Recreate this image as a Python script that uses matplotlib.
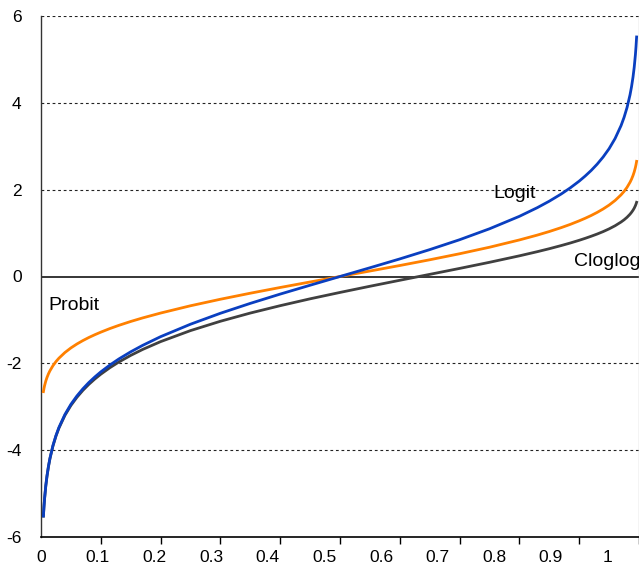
import numpy as np
import matplotlib
matplotlib.use("Agg")
import matplotlib.pyplot as plt

plt.rcParams['font.family'] = ['Liberation Sans', 'DejaVu Sans']

# probabilities
p = [0.004, 0.005, 0.006, 0.008, 0.01, 0.0125, 0.015, 0.02, 0.025, 0.03, 0.04,
     0.05, 0.06, 0.07, 0.08, 0.09, 0.1, 0.115, 0.13, 0.15, 0.17, 0.2, 0.25, 0.3,
     0.35, 0.4, 0.45, 0.5, 0.55, 0.6, 0.65, 0.7, 0.75, 0.8, 0.83, 0.85, 0.87,
     0.885, 0.9, 0.91, 0.92, 0.93, 0.94, 0.95, 0.96, 0.97, 0.975, 0.98, 0.985,
     0.9875, 0.99, 0.992, 0.994, 0.995, 0.996]

logit = [-5.517, -5.293, -5.110, -4.820, -4.595, -4.370, -4.185, -3.892, -3.664,
         -3.476, -3.178, -2.944, -2.752, -2.587, -2.442, -2.314, -2.197, -2.041,
         -1.901, -1.735, -1.586, -1.386, -1.099, -0.847, -0.619, -0.405, -0.201,
         0.0,
         0.201, 0.405, 0.619, 0.847, 1.099, 1.386, 1.586, 1.735, 1.901, 2.041,
         2.197, 2.314, 2.442, 2.587, 2.752, 2.944, 3.178, 3.476, 3.664, 3.892,
         4.185, 4.370, 4.595, 4.820, 5.110, 5.293, 5.517]

probit = [-2.652, -2.576, -2.512, -2.409, -2.326, -2.241, -2.170, -2.054, -1.960,
          -1.881, -1.751, -1.645, -1.555, -1.476, -1.405, -1.341, -1.282, -1.200,
          -1.126, -1.036, -0.954, -0.842, -0.674, -0.524, -0.385, -0.253, -0.126,
          0.0,
          0.126, 0.253, 0.385, 0.524, 0.674, 0.842, 0.954, 1.036, 1.126, 1.200,
          1.282, 1.341, 1.405, 1.476, 1.555, 1.645, 1.751, 1.881, 1.960, 2.054,
          2.170, 2.241, 2.326, 2.409, 2.512, 2.576, 2.652]

cloglog = [-5.519, -5.296, -5.113, -4.824, -4.600, -4.376, -4.192, -3.902, -3.676,
           -3.491, -3.198, -2.970, -2.783, -2.623, -2.484, -2.361, -2.250, -2.102,
           -1.971, -1.817, -1.680, -1.500, -1.246, -1.031, -0.842, -0.672, -0.514,
           -0.367,
           -0.225, -0.087, 0.049, 0.186, 0.327, 0.476, 0.572, 0.640, 0.713, 0.771,
           0.834, 0.879, 0.927, 0.978, 1.034, 1.097, 1.169, 1.255, 1.305, 1.364,
           1.435, 1.478, 1.527, 1.574, 1.632, 1.667, 1.709]

x_tick_labels = ['0', '0.1', '0.2', '0.3', '0.4', '0.5', '0.6', '0.7', '0.8', '0.9', '1']
y_ticks = [-6, -4, -2, 0, 2, 4, 6]

fig = plt.figure(figsize=(6.39, 5.75), dpi=100)
ax = fig.add_axes([41/639, 1 - 537/575, 598/639, 521/575])

ax.plot(p, cloglog, color='#404040', lw=2.0, zorder=3, solid_joinstyle='round')
ax.plot(p, probit, color='#FF8000', lw=2.0, zorder=4, solid_joinstyle='round')
ax.plot(p, logit, color='#0A3FC0', lw=2.0, zorder=5, solid_joinstyle='round')

ax.set_xlim(0, 1)
ax.set_ylim(-6, 6)

# gridlines
for yv in [-4, -2, 2, 4, 6]:
    ax.axhline(yv, color='#222222', lw=0.8, ls=(0, (2.5, 2.5)), zorder=1)
ax.axhline(0, color='black', lw=1.1, zorder=2)

# spines
ax.spines['top'].set_visible(False)
ax.spines['right'].set_color('#c8c8c8')
ax.spines['right'].set_linewidth(1.0)
ax.spines['left'].set_color('#333333')
ax.spines['left'].set_linewidth(1.0)
ax.spines['bottom'].set_color('black')
ax.spines['bottom'].set_linewidth(1.2)

# y ticks
ax.set_yticks(y_ticks)
ax.set_yticklabels([str(v) for v in y_ticks], fontsize=12.5)
ax.tick_params(axis='y', length=0, pad=14)

# x tick marks (unlabelled) and shifted labels
ax.set_xticks(np.linspace(0, 1, 11), minor=True)
ax.tick_params(axis='x', which='minor', length=5, width=1.0, color='black', direction='out')
ax.set_xticks(np.arange(11) * 0.09475)
ax.set_xticklabels(x_tick_labels, fontsize=12.5)
ax.tick_params(axis='x', which='major', length=0, pad=9)

# curve labels
fig.text(48/639, 1 - 306/575, 'Probit', fontsize=14, va='center', ha='left')
fig.text(493/639, 1 - 193/575, 'Logit', fontsize=14, va='center', ha='left')
fig.text(574/639, 1 - 262/575, 'Cloglog', fontsize=14, va='center', ha='left')

fig.savefig('out.png', dpi=100)
